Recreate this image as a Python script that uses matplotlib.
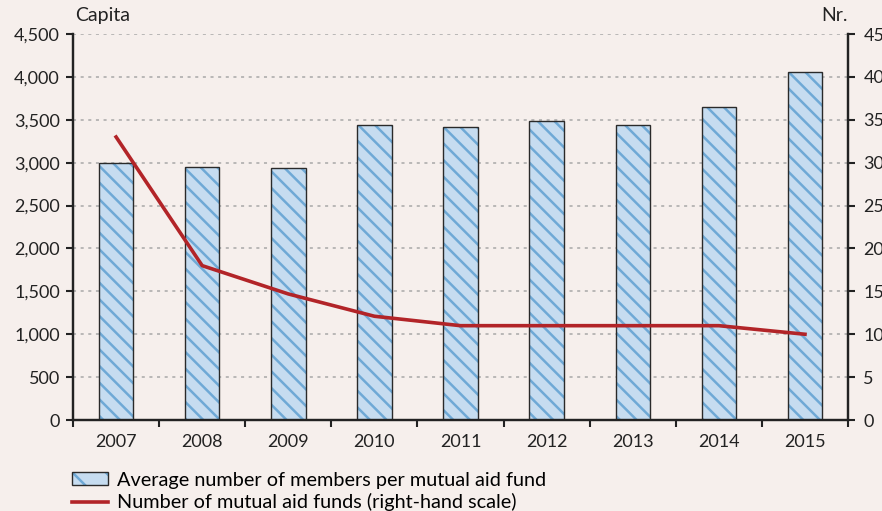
import matplotlib.pyplot as plt
from matplotlib.patches import Patch
from matplotlib.lines import Line2D
from matplotlib.legend_handler import HandlerTuple

plt.rcParams["font.family"] = ["Lato", "DejaVu Sans"]
plt.rcParams["hatch.linewidth"] = 1.8

years = ["2007", "2008", "2009", "2010", "2011", "2012", "2013", "2014", "2015"]
avg_members = [3000, 2955, 2935, 3440, 3420, 3490, 3440, 3645, 4055]
num_funds = [33, 18, 14.7, 12.1, 11, 11, 11, 11, 10]

BG = "#f6efec"
BAR_FILL = "#c6dcf0"
HATCH_BLUE = "#6fa9d6"
LINE_RED = "#b22428"
INK = "#222222"
HATCH = "\\\\"

fig = plt.figure(figsize=(8.82, 5.11), dpi=100, facecolor=BG)
ax = fig.add_axes([0.0828, 0.178, 0.8787, 0.7554], facecolor=BG)
ax2 = ax.twinx()

x = list(range(len(years)))

# bars drawn twice: hatch in blue, then black outline on top
ax.bar(x, avg_members, width=0.4, color=BAR_FILL, edgecolor=HATCH_BLUE,
       hatch=HATCH, linewidth=0, zorder=2)
ax.bar(x, avg_members, width=0.4, color="none", edgecolor="#2a2a2a",
       linewidth=1.0, zorder=3)

ax2.plot(x, num_funds, color=LINE_RED, linewidth=2.6, zorder=4)

ax.set_xlim(-0.5, len(years) - 0.5)
ax.set_ylim(0, 4500)
ax2.set_ylim(0, 45)
ax.set_yticks(range(0, 4501, 500))
ax.set_yticklabels([f"{v:,}" for v in range(0, 4501, 500)])
ax2.set_yticks(range(0, 46, 5))

ax.set_xticks(x)
ax.set_xticklabels(years)
ax.set_xticks([i - 0.5 for i in range(len(years) + 1)], minor=True)
ax.tick_params(axis="x", which="major", length=0, pad=10, labelsize=13, colors=INK)
ax.tick_params(axis="x", which="minor", length=5, width=1.5, direction="out", colors=INK)
ax.tick_params(axis="y", length=5, width=1.5, labelsize=13, colors=INK, pad=4.5)
ax2.tick_params(axis="y", length=5, width=1.5, labelsize=13, colors=INK, pad=6)

for a in (ax, ax2):
    a.spines["top"].set_visible(False)
    for s in ("left", "right", "bottom"):
        a.spines[s].set_linewidth(1.6)
        a.spines[s].set_color(INK)

ax.yaxis.grid(True, color="#a8a8a8", linestyle=(0, (2, 3)), linewidth=1.1, zorder=0)
ax.set_axisbelow(True)
ax2.patch.set_visible(False)

fig.text(0.085, 0.953, "Capita", fontsize=14, color=INK, ha="left", va="bottom")
fig.text(0.9615, 0.953, "Nr.", fontsize=14, color=INK, ha="right", va="bottom")

bar_handle = (
    Patch(facecolor=BAR_FILL, edgecolor=HATCH_BLUE, hatch="\\", linewidth=0),
    Patch(facecolor="none", edgecolor="#2a2a2a", linewidth=1.0),
)
line_handle = Line2D([0], [0], color=LINE_RED, linewidth=2.6)
labels = ["Average number of members per mutual aid fund",
          "Number of mutual aid funds (right-hand scale)"]
fig.legend([bar_handle, line_handle], labels, loc="upper left",
           bbox_to_anchor=(0.082, 0.077), frameon=False, fontsize=14.3,
           handlelength=1.8, handleheight=0.6, handletextpad=0.45,
           labelspacing=0.24, borderaxespad=0, borderpad=0,
           handler_map={tuple: HandlerTuple(ndivide=1)})

fig.savefig("out.png", dpi=100, facecolor=BG)
